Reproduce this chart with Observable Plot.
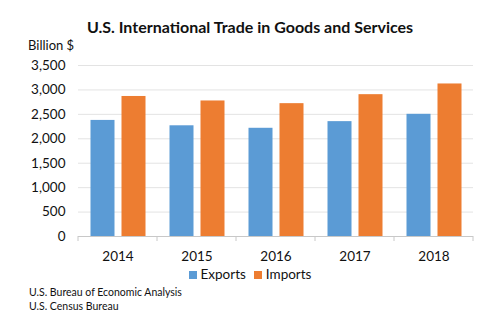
<!DOCTYPE html>
<html>
<head>
<meta charset="utf-8">
<script src="https://cdn.jsdelivr.net/npm/d3@7"></script>
<script src="https://cdn.jsdelivr.net/npm/@observablehq/plot@0.6"></script>
<style>
  html, body { margin: 0; padding: 0; background: #fff; }
  body { width: 500px; height: 335px; position: relative; overflow: hidden; font-family: Lato, "Open Sans", sans-serif; color: #111; }
  #title { position: absolute; top: 17px; left: 0; width: 500px; text-align: center; font-weight: 700; font-size: 16px; }
  #unit { position: absolute; top: 37px; left: 28px; font-size: 13px; }
  #chart { position: absolute; top: 55px; left: 0; }
  #legend { position: absolute; top: 266px; left: 0; width: 500px; text-align: center; font-size: 13.5px; }
  #legend span.sw { display: inline-block; width: 8px; height: 8px; margin-right: 4px; vertical-align: 0px; }
  #legend span.item { margin: 0 4px; }
  #caption { position: absolute; top: 285px; left: 29px; font-size: 10.5px; line-height: 14px; }
</style>
</head>
<body>
<div id="title">U.S. International Trade in Goods and Services</div>
<div id="unit">Billion $</div>
<div id="chart"></div>
<div id="legend"></div>
<div id="caption">U.S. Bureau of Economic Analysis<br>U.S. Census Bureau</div>
<script>
const years = ["2014", "2015", "2016", "2017", "2018"];
const exportsVals = [2376, 2266, 2215, 2351, 2501];
const importsVals = [2866, 2774, 2719, 2903, 3122];
const seriesNames = ["Exports", "Imports"];
const seriesColors = ["#5B9BD5", "#ED7D31"];
const yTicks = [0, 500, 1000, 1500, 2000, 2500, 3000, 3500];

const exportsData = years.map((y, i) => ({year: y, value: exportsVals[i]}));
const importsData = years.map((y, i) => ({year: y, value: importsVals[i]}));

const W = 500, mL = 78, mR = 27;

const chart = Plot.plot({
  width: W,
  height: 209,
  marginLeft: mL,
  marginRight: mR,
  marginTop: 10,
  marginBottom: 28,
  style: {fontFamily: 'Lato, "Open Sans", sans-serif', fontSize: "13.5px", color: "#111", background: "transparent"},
  x: {domain: years, padding: 0, label: null},
  y: {domain: [0, 3500], label: null},
  marks: [
    Plot.ruleY(yTicks.filter(d => d > 0), {stroke: "#e3e3e3", strokeWidth: 1}),
    Plot.barY(exportsData, {x: "year", y: "value", fill: seriesColors[0], insetLeft: 12.5, insetRight: 42.5}),
    Plot.barY(importsData, {x: "year", y: "value", fill: seriesColors[1], insetLeft: 43.5, insetRight: 11.5}),
    Plot.ruleY([0], {stroke: "#c8c8c8", strokeWidth: 1}),
    Plot.axisY({ticks: yTicks, tickSize: 0, tickPadding: 13, tickFormat: d3.format(","), fontSize: 13.5}),
    Plot.axisX({tickSize: 0, tickPadding: 15, fontSize: 13.5})
  ]
});
document.getElementById("chart").appendChild(chart);

// category boundary ticks on the baseline
const svg = d3.select(chart);
const xs = chart.scale("x");
const ys = chart.scale("y");
const y0 = ys.apply(0);
const bounds = years.map(y => xs.apply(y)).concat([xs.apply(years[years.length - 1]) + xs.bandwidth]);
svg.append("g").selectAll("line").data(bounds).join("line")
  .attr("x1", d => d).attr("x2", d => d)
  .attr("y1", y0).attr("y2", y0 + 5)
  .attr("stroke", "#c8c8c8");

const legend = document.getElementById("legend");
legend.innerHTML = seriesNames.map((n, i) =>
  `<span class="item"><span class="sw" style="background:${seriesColors[i]}"></span>${n}</span>`).join("");
</script>
</body>
</html>
